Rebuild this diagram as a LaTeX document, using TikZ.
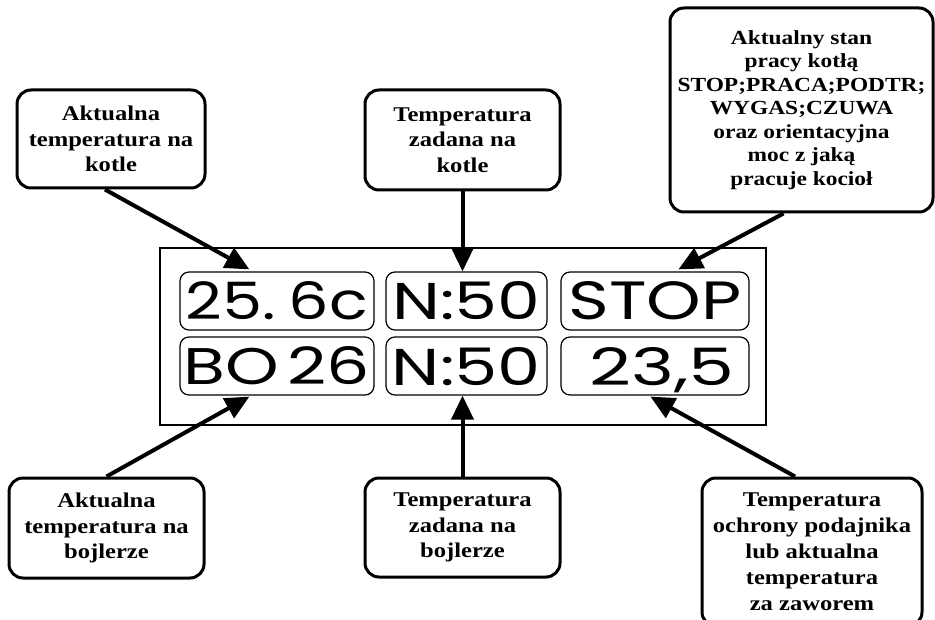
\documentclass[tikz,border=0pt]{standalone}
\usepackage{fontspec}
\setmainfont{Liberation Serif}[FakeStretch=1.17]
\newfontfamily\dispfont{Poppins}
\usetikzlibrary{arrows.meta}
\begin{document}
\begin{tikzpicture}[x=1pt,y=-1pt,
  lbl/.style={draw, line width=3pt, rounded corners=14pt, align=center, inner sep=0pt,
    font=\bfseries\fontsize{21}{25.5}\selectfont},
  disp/.style={draw, line width=1.2pt, rounded corners=9pt, inner sep=0pt,
    minimum height=58pt, text height=38pt, text depth=0pt, font=\dispfont},
  arr/.style={line width=4pt, -{Triangle[length=24pt,width=22pt]}}]
\useasboundingbox (0,0) rectangle (935,620);
% panel
\node[draw, line width=1.5pt, minimum width=606pt, minimum height=177pt, inner sep=0pt] (panel) at (463,336.5) {};
% display boxes
\node[disp, minimum width=194pt] (d1) at (277,301) {\resizebox{182pt}{38pt}{25.\hspace{0.2em}6c}};
\node[disp, minimum width=161pt] (d2) at (466.5,301) {\resizebox{148pt}{38pt}{N:50}};
\node[disp, minimum width=188pt] (d3) at (655,301) {\resizebox{173pt}{38pt}{STOP}};
\node[disp, minimum width=194pt] (d4) at (277,366) {\resizebox{186pt}{38pt}{BO\hspace{0.12em}26}};
\node[disp, minimum width=161pt] (d5) at (466.5,366) {\resizebox{149pt}{38pt}{N:50}};
\node[disp, minimum width=188pt] (d6) at (655,366) {\hspace{14pt}\resizebox{145pt}{38pt}{23,5}};
% labels
\node[lbl, minimum width=188pt, minimum height=98pt] (tl) at (111,139) {Aktualna\\temperatura na\\kotle};
\node[lbl, minimum width=195pt, minimum height=100pt] (tc) at (462.5,140) {Temperatura\\zadana na\\kotle};
\node[lbl, minimum width=263pt, minimum height=204pt, font=\bfseries\fontsize{20}{23.5}\selectfont] (tr) at (801.5,110)
  {Aktualny stan\\pracy kotłą\\STOP;PRACA;PODTR;\\WYGAS;CZUWA\\oraz orientacyjna\\moc z jaką\\pracuje kocioł};
\node[lbl, minimum width=195pt, minimum height=100pt] (bl) at (106.5,528) {Aktualna\\temperatura na\\bojlerze};
\node[lbl, minimum width=195pt, minimum height=99pt] (bc) at (462.5,527.5) {Temperatura\\zadana na\\bojlerze};
\node[lbl, minimum width=220pt, minimum height=148pt, font=\bfseries\fontsize{21}{26}\selectfont] (br) at (812,552) {Temperatura\\ochrony podajnika\\lub aktualna\\temperatura\\za zaworem};
% arrows
\draw[arr] ([xshift=-6pt]tl.south) -- ([xshift=70pt,yshift=2pt]d1.north west);
\draw[arr] (tc.south) -- (tc.south |- d2.north);
\draw[arr] ([xshift=-18pt]tr.south) -- ([xshift=118pt,yshift=2pt]d3.north west);
\draw[arr] (bl.north) -- ([xshift=70pt,yshift=-1pt]d4.south west);
\draw[arr] (bc.north) -- (bc.north |- d5.south);
\draw[arr] ([xshift=-17pt]br.north) -- ([xshift=90pt,yshift=-1pt]d6.south west);
\end{tikzpicture}
\end{document}
